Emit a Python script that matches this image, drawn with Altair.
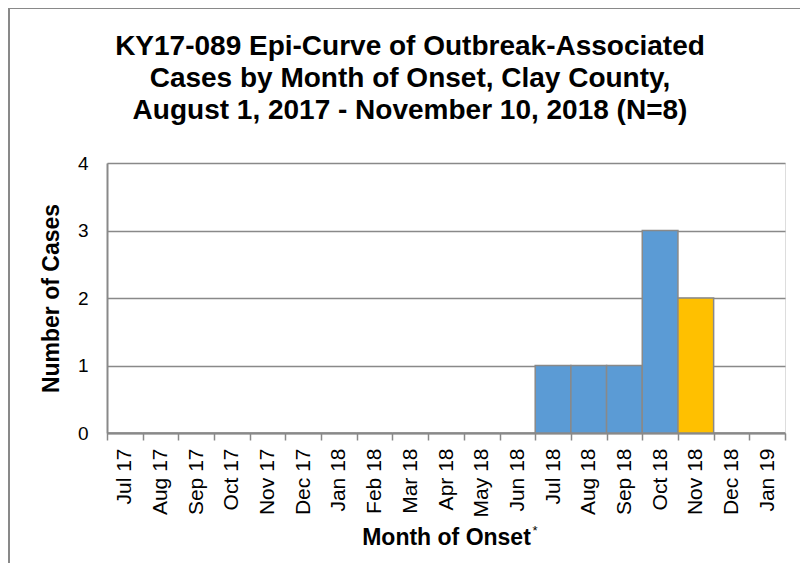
import altair as alt
import pandas as pd

months = ["Jul 17", "Aug 17", "Sep 17", "Oct 17", "Nov 17", "Dec 17", "Jan 18",
          "Feb 18", "Mar 18", "Apr 18", "May 18", "Jun 18", "Jul 18", "Aug 18",
          "Sep 18", "Oct 18", "Nov 18", "Dec 18", "Jan 19"]
cases = [0, 0, 0, 0, 0, 0, 0, 0, 0, 0, 0, 0, 1, 1, 1, 3, 2, 0, 0]
status = ["Confirmed"] * 16 + ["Recent"] + ["Confirmed"] * 2
status_names = ["Confirmed", "Recent"]
status_colors = ["#5B9BD5", "#FFC000"]
title_lines = ["KY17-089 Epi-Curve of Outbreak-Associated",
               "Cases by Month of Onset, Clay County,",
               "August 1, 2017 - November 10, 2018 (N=8)"]
y_ticks = [0, 1, 2, 3, 4]

df = pd.DataFrame({"month": months, "cases": cases, "status": status})
one = pd.DataFrame({"k": [0]})

FONT = "Liberation Sans"
GRAY = "#898989"

bars = alt.Chart(df).mark_bar(stroke=GRAY, strokeWidth=1.5).encode(
    x=alt.X("month:N", sort=months,
            scale=alt.Scale(paddingInner=0, paddingOuter=0),
            axis=alt.Axis(title="Month of Onset", labelAngle=-90, tickBand="extent",
                          tickSize=7, tickColor=GRAY, tickWidth=1.5,
                          domainColor=GRAY, domainWidth=2, labelPadding=8,
                          labelFontSize=21, labelFont=FONT, labelColor="black",
                          titleFont=FONT, titleFontSize=23, titleFontWeight="bold",
                          titleColor="black", titlePadding=10, grid=False)),
    y=alt.Y("cases:Q", scale=alt.Scale(domain=[0, 4]),
            axis=alt.Axis(title="Number of Cases", values=y_ticks, format="d",
                          ticks=False, tickSize=0, labelPadding=19,
                          domainColor=GRAY, domainWidth=2,
                          gridColor=GRAY, gridWidth=1.5,
                          labelFontSize=19, labelFont=FONT, labelColor="black",
                          titleFont=FONT, titleFontSize=23, titleFontWeight="bold",
                          titleColor="black", titlePadding=14)),
    color=alt.Color("status:N", scale=alt.Scale(domain=status_names, range=status_colors),
                    legend=None),
)

title = alt.Chart(one).mark_text(text=title_lines, fontSize=28, lineHeight=32, font=FONT,
                                 fontWeight="bold", color="black", align="center",
                                 baseline="top").encode(
    x=alt.value(303), y=alt.value(-130))

star = alt.Chart(one).mark_text(text="*", fontSize=13, font=FONT,
                                color="black").encode(
    x=alt.value(428), y=alt.value(368))

border_left = alt.Chart(one).mark_rule(color=GRAY, strokeWidth=2).encode(
    x=alt.value(-98), y=alt.value(-155), y2=alt.value(420))
border_top = alt.Chart(one).mark_rule(color=GRAY, strokeWidth=2).encode(
    x=alt.value(-98), x2=alt.value(700), y=alt.value(-155))

chart = alt.layer(bars, title, star, border_left, border_top).properties(
    width=678, height=270,
    autosize=alt.AutoSizeParams(type="none"),
    padding={"left": 99, "top": 155, "right": 15, "bottom": 130},
).configure_view(stroke=GRAY, strokeWidth=1.5).configure(background="white")

chart.save("out.html", embed_options={"renderer": "svg", "actions": False})
